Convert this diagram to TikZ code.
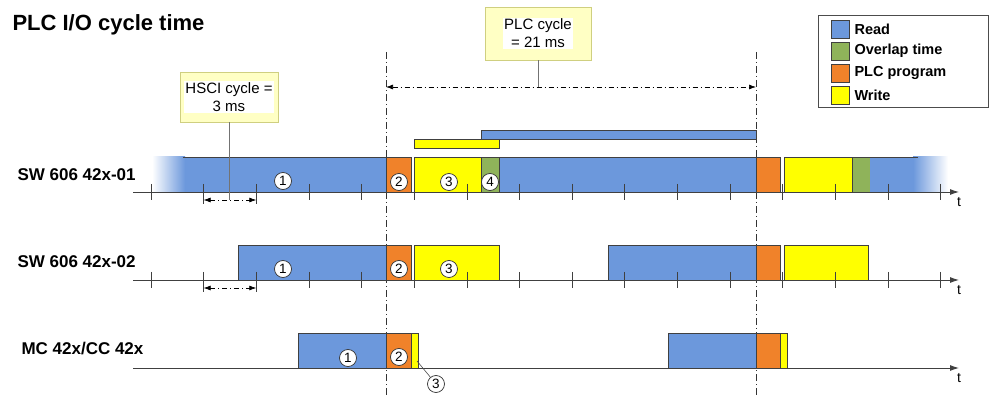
\documentclass[tikz,border=0pt]{standalone}
\usepackage{fontspec}
\setmainfont{Liberation Sans}
\definecolor{ReadBlue}{HTML}{6C98DC}
\definecolor{OverlapGreen}{HTML}{8FB35A}
\definecolor{PlcOrange}{HTML}{F0822A}
\definecolor{WriteYellow}{HTML}{FFFF00}
\definecolor{CalloutFill}{HTML}{FFFFC4}
\definecolor{CalloutEdge}{HTML}{CFCF80}
\usetikzlibrary{arrows.meta, positioning}

\begin{document}
\begin{tikzpicture}[x=1pt, y=-1pt,
  every node/.style={font=\fontsize{14}{16}\selectfont},
  outline/.style={draw=black!75, line width=0.8pt},
  readbar/.style={outline, fill=ReadBlue},
  overlapbar/.style={outline, fill=OverlapGreen},
  plcbar/.style={outline, fill=PlcOrange},
  writebar/.style={outline, fill=WriteYellow},
  tickmark/.style={black!75, line width=0.8pt},
  timeaxis/.style={black!75, line width=0.9pt, -{Latex[length=9pt,width=6pt]}},
  cycleline/.style={black!80, line width=0.7pt, dash pattern=on 7pt off 3pt on 1pt off 3pt},
  dimarrow/.style={black, line width=0.7pt, dash pattern=on 5pt off 3pt on 1pt off 3pt,
    {Latex[length=7pt,width=5pt]}-{Latex[length=7pt,width=5pt]}},
  leader/.style={black!55, line width=0.6pt},
  callout/.style={draw=CalloutEdge, fill=CalloutFill, line width=0.8pt},
  calltext/.style={fill=white, inner sep=1pt, align=center, font=\fontsize{15}{18}\selectfont},
  num/.style={circle, draw=black!80, fill=white, line width=0.7pt, inner sep=0pt,
    minimum size=17pt, font=\fontsize{13.5}{14}\selectfont},
  rowlabel/.style={anchor=west, font=\fontsize{17}{20}\selectfont\bfseries},
  key/.style={outline, minimum size=18pt, inner sep=0pt},
  keytext/.style={anchor=west, font=\fontsize{14.5}{16}\selectfont\bfseries}]
  \useasboundingbox (0,0) rectangle (989,398);

  % Titel und Zeilen
  \node[anchor=west, font=\fontsize{22}{26}\selectfont\bfseries] (title) at (9,25) {PLC I/O cycle time};
  \node[rowlabel] (row1) at (14,175) {SW 606 42x-01};
  \node[rowlabel] (row2) at (14,262) {SW 606 42x-02};
  \node[rowlabel] (row3) at (18,349) {MC 42x/CC 42x};

  % PLC-Zyklusgrenzen
  \coordinate (c1top) at (386,52);
  \coordinate (c1bot) at (386,398);
  \coordinate (c2top) at (756,52);
  \coordinate (c2bot) at (756,398);
  \draw[cycleline] (c1top) -- (c1bot);
  \draw[cycleline] (c2top) -- (c2bot);

  % Zeile 1
  \shade[left color=white, right color=ReadBlue] (152,157) rectangle (185,192);
  \fill[ReadBlue] (185,157) rectangle (386,192);
  \draw[outline] (183,157) -- (386,157) -- (386,192);
  \draw[plcbar] (386,157) rectangle (411,192);
  \draw[writebar] (414,157) rectangle (481,192);
  \draw[overlapbar] (481,157) rectangle (499,192);
  \draw[readbar] (499,157) rectangle (756,192);
  \draw[plcbar] (756,157) rectangle (780,192);
  \draw[writebar] (784,157) rectangle (852,192);
  \draw[overlapbar] (852,157) rectangle (870,192);
  \fill[ReadBlue] (870,157) rectangle (913,192);
  \shade[left color=ReadBlue, right color=white] (913,157) rectangle (948,192);
  \draw[outline] (870,157) -- (918,157);
  \draw[writebar] (414,139) rectangle (499,148);
  \draw[readbar] (481,130) rectangle (756,139);

  % Zeile 2
  \draw[readbar] (238,245) rectangle (386,280);
  \draw[plcbar] (386,245) rectangle (411,280);
  \draw[writebar] (414,245) rectangle (499,280);
  \draw[readbar] (608,245) rectangle (756,280);
  \draw[plcbar] (756,245) rectangle (780,280);
  \draw[writebar] (784,245) rectangle (868,280);

  % Zeile 3
  \draw[readbar] (298,333) rectangle (386,368);
  \draw[plcbar] (386,333) rectangle (411,368);
  \draw[writebar] (411,333) rectangle (418,368);
  \draw[readbar] (668,333) rectangle (756,368);
  \draw[plcbar] (756,333) rectangle (780,368);
  \draw[writebar] (780,333) rectangle (787,368);

  % Zeitachsen
  \foreach \y/\n in {192/1, 280/2, 368/3} {
    \coordinate (a\n) at (133,\y);
    \coordinate (e\n) at (959,\y);
    \draw[timeaxis] (a\n) -- (e\n);
    \node[anchor=north west, inner sep=0pt] (t\n) at (957,\y+5) {t};
  }
  \foreach \k in {0,...,15} {
    \draw[tickmark] (151+52.65*\k,184) -- (151+52.65*\k,200);
    \draw[tickmark] (151+52.65*\k,272) -- (151+52.65*\k,288);
  }
  \draw[tickmark] (203.6,200) -- (203.6,204);
  \draw[tickmark] (256.3,200) -- (256.3,204);
  \draw[tickmark] (203.6,288) -- (203.6,292);
  \draw[tickmark] (256.3,288) -- (256.3,292);

  % Nummern
  \node[num] (n11) at (283,181) {1};
  \node[num] (n12) at (399,182) {2};
  \node[num] (n13) at (449,182) {3};
  \node[num] (n14) at (490,182) {4};
  \node[num] (n21) at (283,269) {1};
  \node[num] (n22) at (399,269) {2};
  \node[num] (n23) at (449,269) {3};
  \node[num] (n31) at (348,358) {1};
  \node[num] (n32) at (399,357) {2};
  \node[num] (n33) at (436,384) {3};
  \coordinate (w3tip) at (417,361);
  \draw[black!70, line width=0.6pt] (n33) -- (w3tip);

  % HSCI-Zyklus
  \coordinate (h1a) at (203.6,200);
  \coordinate (h1b) at (256.3,200);
  \coordinate (h2a) at (203.6,288);
  \coordinate (h2b) at (256.3,288);
  \draw[dimarrow] (h1a) -- (h1b);
  \draw[dimarrow] (h2a) -- (h2b);
  \node[callout, minimum width=98pt, minimum height=50pt] (hsci) at (229,97) {};
  \node[calltext] (hscitext) at (hsci) {HSCI cycle =\\3 ms};
  \draw[leader] (hsci.south) -- (hsci.south |- h1a);

  % PLC-Zyklus
  \coordinate (pa) at (386,87);
  \coordinate (pb) at (756,87);
  \draw[dimarrow] (pa) -- (pb);
  \node[callout, minimum width=106pt, minimum height=53pt] (plc) at (538,33.5) {};
  \node[calltext] (plctext) at (plc) {PLC cycle\\= 21 ms};
  \draw[leader] (plc.south) -- (plc.south |- pa);

  % Legende
  \node[draw=black!70, line width=0.9pt, fill=white, minimum width=170pt, minimum height=92pt] (legend) at (903,61) {};
  \node[key, fill=ReadBlue] (kread) at (840,29) {};
  \node[key, fill=OverlapGreen] (koverlap) at (840,51) {};
  \node[key, fill=PlcOrange] (kplc) at (840,73) {};
  \node[key, fill=WriteYellow] (kwrite) at (840,95) {};
  \node[keytext] (lread) at (851,29) {Read};
  \node[keytext] (loverlap) at (851,51) {Overlap time};
  \node[keytext] (lplc) at (851,73) {PLC program};
  \node[keytext] (lwrite) at (851,95) {Write};
\end{tikzpicture}
\end{document}
